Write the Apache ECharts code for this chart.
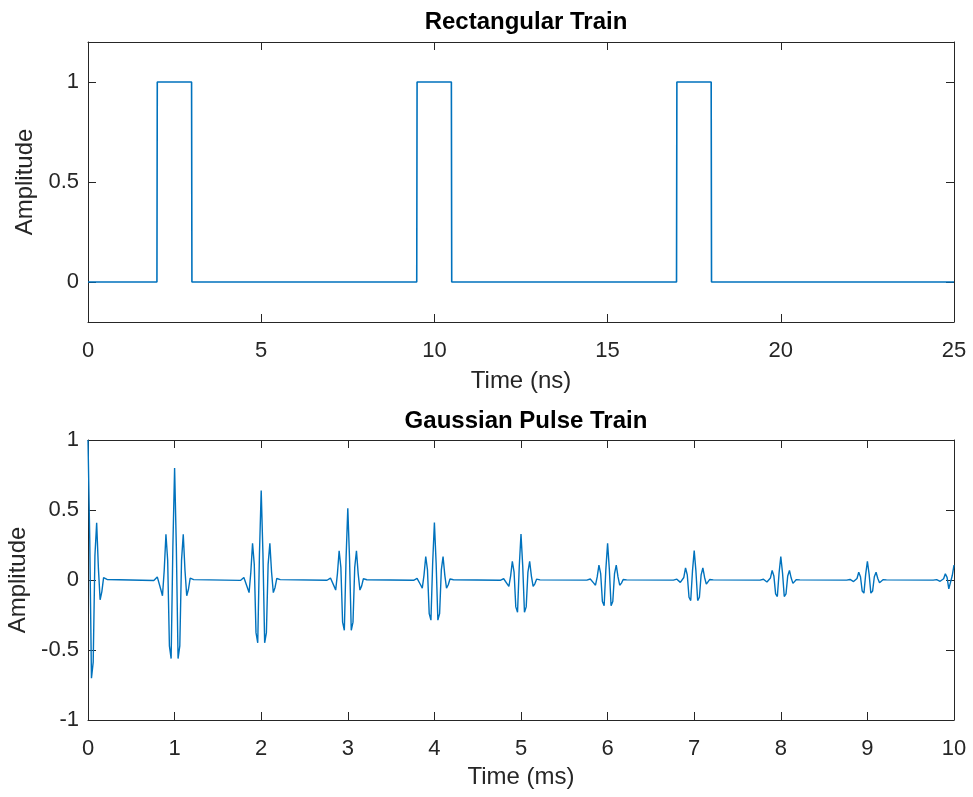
<!DOCTYPE html>
<html>
<head>
<meta charset="utf-8">
<script src="https://cdn.jsdelivr.net/npm/echarts@6/dist/echarts.min.js"></script>
<style>html,body{margin:0;padding:0;background:#fff;}#c{width:973px;height:797px;}</style>
</head>
<body>
<div id="c"></div>
<script>
// ---- Top panel: rectangular train (time in ns) ----
var rectTime = [0, 1.99, 2, 2.99, 3, 9.49, 9.5, 10.49, 10.5, 16.99, 17, 17.99, 18, 25];
var rectAmp  = [0, 0,    1, 1,    0, 0,    1,   1,     0,    0,     1,  1,     0,  0];
var rectYTicks = [0, 0.5, 1];

// ---- Bottom panel: Gaussian pulse train (time in ms) ----
var pulseDelays = [0, 1, 2, 3, 4, 5, 6, 7, 8, 9, 10];
var sampleOffsets = [-0.24, -0.22, -0.2, -0.18, -0.16, -0.14, -0.12, -0.1, -0.08, -0.06, -0.04, -0.02, 0,
                     0.02, 0.04, 0.06, 0.08, 0.1, 0.12, 0.14, 0.16, 0.18, 0.2, 0.22, 0.24];
var pulse0  = [null, null, null, null, null, null, null, null, null, null, null, null,
               1.0, 0.298, -0.701, -0.587, 0.175, 0.409, 0.085, -0.141, -0.083, 0.017, 0.028, 0.004, -0.005];
var pulse1  = [-0.004, 0.003, 0.022, 0.014, -0.066, -0.113, 0.068, 0.327, 0.140, -0.470, -0.561, 0.238, 0.8,
               0.238, -0.561, -0.470, 0.140, 0.327, 0.068, -0.113, -0.066, 0.014, 0.022, 0.003, -0.004];
var pulse2  = [-0.003, 0.003, 0.018, 0.011, -0.053, -0.090, 0.054, 0.262, 0.112, -0.376, -0.449, 0.191, 0.64,
               0.191, -0.449, -0.376, 0.112, 0.262, 0.054, -0.090, -0.053, 0.011, 0.018, 0.003, -0.003];
var pulse3  = [-0.002, 0.002, 0.014, 0.009, -0.042, -0.072, 0.044, 0.209, 0.090, -0.301, -0.359, 0.153, 0.512,
               0.153, -0.359, -0.301, 0.090, 0.209, 0.044, -0.072, -0.042, 0.009, 0.014, 0.002, -0.002];
var pulse4  = [-0.002, 0.002, 0.011, 0.007, -0.034, -0.058, 0.035, 0.168, 0.072, -0.240, -0.287, 0.122, 0.41,
               0.122, -0.287, -0.240, 0.072, 0.168, 0.035, -0.058, -0.034, 0.007, 0.011, 0.002, -0.002];
var pulse5  = [-0.002, 0.001, 0.009, 0.006, -0.027, -0.046, 0.028, 0.134, 0.057, -0.192, -0.230, 0.098, 0.328,
               0.098, -0.230, -0.192, 0.057, 0.134, 0.028, -0.046, -0.027, 0.006, 0.009, 0.001, -0.002];
var pulse6  = [-0.001, 0.001, 0.007, 0.004, -0.022, -0.037, 0.022, 0.107, 0.046, -0.154, -0.184, 0.078, 0.262,
               0.078, -0.184, -0.154, 0.046, 0.107, 0.022, -0.037, -0.022, 0.004, 0.007, 0.001, -0.001];
var pulse7  = [-0.001, 0.001, 0.006, 0.004, -0.017, -0.030, 0.018, 0.086, 0.037, -0.123, -0.147, 0.063, 0.21,
               0.063, -0.147, -0.123, 0.037, 0.086, 0.018, -0.030, -0.017, 0.004, 0.006, 0.001, -0.001];
var pulse8  = [-0.001, 0.001, 0.005, 0.003, -0.014, -0.024, 0.014, 0.069, 0.029, -0.099, -0.118, 0.050, 0.168,
               0.050, -0.118, -0.099, 0.029, 0.069, 0.014, -0.024, -0.014, 0.003, 0.005, 0.001, -0.001];
var pulse9  = [-0.001, 0.001, 0.004, 0.002, -0.011, -0.019, 0.011, 0.055, 0.023, -0.079, -0.094, 0.040, 0.134,
               0.040, -0.094, -0.079, 0.023, 0.055, 0.011, -0.019, -0.011, 0.002, 0.004, 0.001, -0.001];
var pulse10 = [-0.001, 0.0, 0.003, 0.002, -0.009, -0.015, 0.009, 0.044, 0.019, -0.063, -0.075, 0.032, 0.107,
               null, null, null, null, null, null, null, null, null, null, null, null];
var gaussYTicks = [-1, -0.5, 0, 0.5, 1];

var pulses = [pulse0, pulse1, pulse2, pulse3, pulse4, pulse5, pulse6, pulse7, pulse8, pulse9, pulse10];
var gaussData = [];
pulses.forEach(function (vals, n) {
  vals.forEach(function (v, i) {
    if (v !== null) gaussData.push([pulseDelays[n] + sampleOffsets[i], v]);
  });
});
var rectData = rectTime.map(function (t, i) { return [t, rectAmp[i]]; });

var FONT = 'Liberation Sans, Arial, Helvetica, sans-serif';
var INK = '#262626';
var LINE = '#0072BD';
var TICK_FS = 22, NAME_FS = 24, TITLE_FS = 24;

function xAxisMain(gi, min, max, interval, name, gap) {
  return {
    type: 'value', gridIndex: gi, min: min, max: max, interval: interval, position: 'bottom',
    name: name, nameLocation: 'middle', nameGap: gap,
    nameTextStyle: { color: INK, fontFamily: FONT, fontSize: NAME_FS },
    axisLine: { show: true, onZero: false, lineStyle: { color: INK, width: 1 } },
    axisTick: { show: true, inside: true, length: 8, lineStyle: { color: INK } },
    axisLabel: { color: INK, fontFamily: FONT, fontSize: TICK_FS, margin: 18 },
    splitLine: { show: false }
  };
}
function xAxisMirror(gi, min, max, interval) {
  return {
    type: 'value', gridIndex: gi, min: min, max: max, interval: interval, position: 'top',
    axisLine: { show: true, onZero: false, lineStyle: { color: INK, width: 1 } },
    axisTick: { show: true, inside: true, length: 8, lineStyle: { color: INK } },
    axisLabel: { show: false }, splitLine: { show: false }
  };
}
function yAxisMain(gi, min, max, interval, ticks, gap) {
  return {
    type: 'value', gridIndex: gi, min: min, max: max, interval: interval, position: 'left',
    name: 'Amplitude', nameLocation: 'middle', nameGap: gap,
    nameTextStyle: { color: INK, fontFamily: FONT, fontSize: NAME_FS },
    axisLine: { show: true, onZero: false, lineStyle: { color: INK, width: 1 } },
    axisTick: { show: true, inside: true, length: 8, lineStyle: { color: INK },
      customValues: ticks },
    axisLabel: { color: INK, fontFamily: FONT, fontSize: TICK_FS, margin: 9, customValues: ticks },
    splitLine: { show: false }
  };
}
function yAxisMirror(gi, min, max, interval, ticks) {
  return {
    type: 'value', gridIndex: gi, min: min, max: max, interval: interval, position: 'right',
    axisLine: { show: true, onZero: false, lineStyle: { color: INK, width: 1 } },
    axisTick: { show: true, inside: true, length: 8, lineStyle: { color: INK }, customValues: ticks },
    axisLabel: { show: false }, splitLine: { show: false }
  };
}

var chart = echarts.init(document.getElementById('c'), null, { renderer: 'canvas' });
chart.setOption({
  animation: false,
  backgroundColor: '#ffffff',
  title: [
    { text: 'Rectangular Train', left: 521, top: 5, textAlign: 'center',
      textStyle: { color: '#000', fontFamily: FONT, fontSize: TITLE_FS, fontWeight: 'bold' } },
    { text: 'Gaussian Pulse Train', left: 521, top: 404, textAlign: 'center',
      textStyle: { color: '#000', fontFamily: FONT, fontSize: TITLE_FS, fontWeight: 'bold' } }
  ],
  grid: [
    { left: 88, top: 42, width: 866, height: 280, containLabel: false, outerBoundsMode: 'none' },
    { left: 88, top: 440, width: 866, height: 280, containLabel: false, outerBoundsMode: 'none' }
  ],
  xAxis: [
    xAxisMain(0, 0, 25, 5, 'Time (ns)', 47),
    xAxisMirror(0, 0, 25, 5),
    xAxisMain(1, 0, 10, 1, 'Time (ms)', 45),
    xAxisMirror(1, 0, 10, 1)
  ],
  yAxis: [
    yAxisMain(0, -0.2, 1.2, 0.2, rectYTicks, 49),
    yAxisMirror(0, -0.2, 1.2, 0.2, rectYTicks),
    yAxisMain(1, -1, 1, 0.5, gaussYTicks, 58),
    yAxisMirror(1, -1, 1, 0.5, gaussYTicks)
  ],
  series: [
    { type: 'line', xAxisIndex: 0, yAxisIndex: 0, data: rectData, showSymbol: false,
      lineStyle: { color: LINE, width: 1.6 }, silent: true },
    { type: 'line', xAxisIndex: 2, yAxisIndex: 2, data: gaussData, showSymbol: false,
      lineStyle: { color: LINE, width: 1.4 }, silent: true }
  ]
});
</script>
</body>
</html>
